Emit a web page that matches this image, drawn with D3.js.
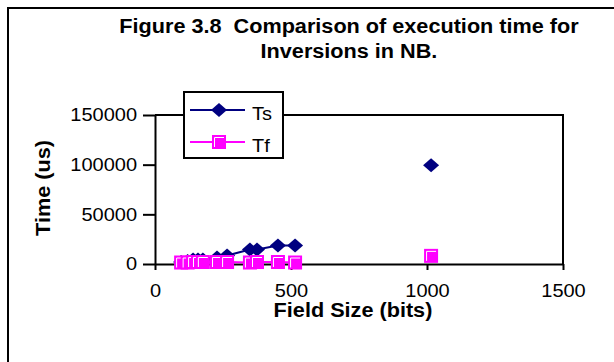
<!doctype html>
<html lang="en">
	<head>
		<meta charset="UTF-8" />
		<title>Figure 3.8</title>
		<script src="https://d3js.org/d3.v7.min.js"></script>
		<style>
			body {
				margin: 0;
				background: #fff;
			}
			svg {
				display: block;
				font-family: 'Liberation Sans', Arial, sans-serif;
			}
			.axis path,
			.axis line {
				stroke: #000;
				stroke-width: 2px;
			}
			.axis text {
				font-size: 18px;
				fill: #000;
			}
		</style>
	</head>
	<body>
		<svg width="614" height="362"></svg>
		<script>
			// values
			const fieldSize = [96, 120, 140, 158, 176, 228, 265, 349, 375, 452, 515, 1015]
			const ts = [2000, 3000, 4500, 4500, 4500, 6500, 8500, 14500, 14500, 18500, 18500, 99500]
			const tf = [1500, 1500, 2000, 2000, 2000, 2000, 2000, 1500, 2000, 2000, 1500, 8200]
			const xTicks = [0, 500, 1000, 1500]
			const yTicks = [0, 50000, 100000, 150000]

			const svg = d3.select('svg')
			const plotL = 155,
				plotR = 563,
				plotT = 115,
				plotB = 264

			const x = d3.scaleLinear().domain([0, 1500]).range([plotL, plotR])
			const y = d3.scaleLinear().domain([0, 150000]).range([plotB, plotT])

			// the original's text is a bit wider than Arial
			const stretch = (sel, k = 1.11) =>
				sel.each(function () {
					const w = this.getComputedTextLength()
					d3.select(this).attr('textLength', w * k).attr('lengthAdjust', 'spacingAndGlyphs')
				})

			// outer frame (only left and top visible)
			svg.append('rect')
				.attr('x', 8)
				.attr('y', 8)
				.attr('width', 640)
				.attr('height', 400)
				.attr('fill', 'none')
				.attr('stroke', '#000')
				.attr('stroke-width', 2)

			// title
			const title = svg
				.append('text')
				.attr('text-anchor', 'middle')
				.attr('font-weight', 'bold')
				.attr('font-size', 19.5)
				.style('white-space', 'pre')
			title.append('tspan').attr('x', 349).attr('y', 33).text('Figure 3.8  Comparison of execution time for')
			title.append('tspan').attr('x', 349).attr('y', 58).text('Inversions in NB.')
			stretch(title.selectAll('tspan'))

			// plot border top/right
			svg.append('path')
				.attr('d', `M${plotL},${plotT}H${plotR}V${plotB}`)
				.attr('fill', 'none')
				.attr('stroke', '#000')
				.attr('stroke-width', 2)

			const xAxis = svg
				.append('g')
				.attr('class', 'axis')
				.attr('transform', `translate(0,${plotB})`)
				.call(d3.axisBottom(x).tickValues(xTicks).tickFormat(d3.format('d')).tickSize(6).tickSizeOuter(0).tickPadding(14))
			stretch(xAxis.selectAll('text'))

			const yAxis = svg
				.append('g')
				.attr('class', 'axis')
				.attr('transform', `translate(${plotL},0)`)
				.call(d3.axisLeft(y).tickValues(yTicks).tickFormat(d3.format('d')).tickSize(12).tickSizeOuter(0).tickPadding(6))
			stretch(yAxis.selectAll('text'))

			stretch(
				svg.append('text')
					.attr('x', 353)
					.attr('y', 317)
					.attr('text-anchor', 'middle')
					.attr('font-weight', 'bold')
					.attr('font-size', 19.5)
					.text('Field Size (bits)')
			)

			stretch(
				svg.append('text')
					.attr('transform', 'translate(50,188) rotate(-90)')
					.attr('text-anchor', 'middle')
					.attr('font-weight', 'bold')
					.attr('font-size', 19.5)
					.text('Time (us)')
			)

			const diamond = (g, cx, cy) =>
				g
					.append('path')
					.attr('d', `M${cx},${cy - 7}L${cx + 8},${cy}L${cx},${cy + 7}L${cx - 8},${cy}Z`)
					.attr('fill', '#000080')

			const square = (g, cx, cy) => {
				g.append('rect')
					.attr('x', cx - 7)
					.attr('y', cy - 7)
					.attr('width', 14)
					.attr('height', 14)
					.attr('fill', '#ff00ff')
				g.append('path')
					.attr('d', `M${cx - 4.5},${cy + 5}V${cy - 4.5}H${cx + 5}`)
					.attr('fill', 'none')
					.attr('stroke', '#fff')
					.attr('stroke-width', 1)
			}

			// the last point (about 1000 bits) is not joined to the rest in the original
			const line = d3
				.line()
				.defined((d, i) => fieldSize[i] < 1000)
				.x((d, i) => x(fieldSize[i]))
				.y((d) => y(d))

			const plot = svg.append('g')
			plot.append('path').attr('d', line(ts)).attr('fill', 'none').attr('stroke', '#000080').attr('stroke-width', 2)
			ts.forEach((v, i) => diamond(plot, x(fieldSize[i]), y(v)))
			plot.append('path').attr('d', line(tf)).attr('fill', 'none').attr('stroke', '#ff00ff').attr('stroke-width', 2)
			tf.forEach((v, i) => square(plot, x(fieldSize[i]), y(v)))

			// legend
			const lg = svg.append('g')
			lg.append('rect')
				.attr('x', 184)
				.attr('y', 92)
				.attr('width', 99)
				.attr('height', 66)
				.attr('fill', '#fff')
				.attr('stroke', '#000')
				.attr('stroke-width', 2)
			lg.append('line').attr('x1', 190).attr('x2', 245).attr('y1', 110).attr('y2', 110).attr('stroke', '#000080').attr('stroke-width', 2)
			diamond(lg, 219, 110)
			lg.append('line').attr('x1', 190).attr('x2', 245).attr('y1', 142).attr('y2', 142).attr('stroke', '#ff00ff').attr('stroke-width', 2)
			square(lg, 219, 142)
			stretch(lg.append('text').attr('x', 252).attr('y', 120).attr('font-size', 18).text('Ts'))
			stretch(lg.append('text').attr('x', 252).attr('y', 152).attr('font-size', 18).text('Tf'))
		</script>
	</body>
</html>
